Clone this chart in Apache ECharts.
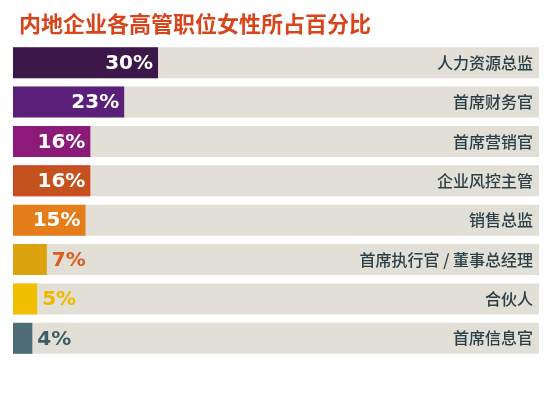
<!DOCTYPE html>
<html><head><meta charset="utf-8">
<script src="https://cdn.jsdelivr.net/npm/echarts@6/dist/echarts.min.js"></script>
<style>html,body{margin:0;padding:0;background:#fff}#c{width:550px;height:393px}</style>
</head><body><div id="c"></div>
<script>
const title = '内地企业各高管职位女性所占百分比';
const categories = ['人力资源总监','首席财务官','首席营销官','企业风控主管','销售总监','首席执行官 / 董事总经理','合伙人','首席信息官'];
const values = [30, 23, 16, 16, 15, 7, 5, 4];

const barColors = ['#3b1849','#5a1f78','#8b1a78','#c4521f','#e47d1a','#dca30f','#f2c000','#4f6d76'];
const outsideLabelColors = ['#fff','#fff','#fff','#fff','#fff','#dc5a1c','#f0b800','#3f5d67'];
const insideThreshold = 10;

const chart = echarts.init(document.getElementById('c'), null, {renderer:'canvas'});
chart.setOption({
  backgroundColor:'#ffffff',
  animation:false,
  title:{text:title,left:14,top:8,textStyle:{color:'#d9441b',fontSize:22,fontWeight:'bold',fontFamily:'Noto Sans CJK SC'}},
  grid:{left:13,right:11,top:43,height:315},
  xAxis:{type:'value',min:0,max:108.8,show:false},
  yAxis:{type:'category',data:categories,inverse:true,position:'right',
    axisLine:{show:false},axisTick:{show:false},
    axisLabel:{inside:true,margin:6,color:'#2c4049',fontSize:16,fontFamily:'Noto Sans CJK SC',fontWeight:500},
    z:10},
  series:[{
    type:'bar',barWidth:31,
    showBackground:true,
    backgroundStyle:{color:'#e2e0d6'},
    data: values.map((v,i)=>({
      value:v,
      itemStyle:{color:barColors[i], borderColor: i===3 ? '#d93a22' : barColors[i], borderWidth: i===3?1:0},
      label:{
        show:true,
        position: v>=insideThreshold ? 'insideRight' : 'right',
        distance: 5,
        offset:[0, 1],
        color: outsideLabelColors[i],
        fontSize:20,fontWeight:'bold',fontFamily:'DejaVu Sans',
        formatter:'{c}%'
      }
    }))
  }]
});
</script></body></html>
